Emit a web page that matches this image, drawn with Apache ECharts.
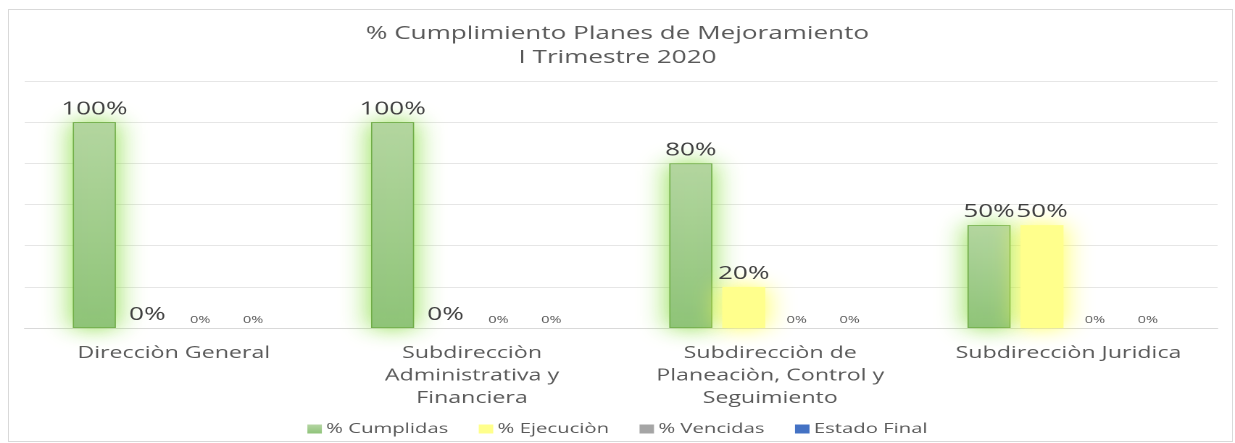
<!DOCTYPE html>
<html>
<head>
<meta charset="utf-8">
<script src="https://cdn.jsdelivr.net/npm/echarts@6/dist/echarts.min.js"></script>
<style>
  html, body { margin: 0; padding: 0; background: #fff; overflow: hidden; }
  #frame { position: absolute; left: 8px; top: 9px; width: 1225px; height: 433px; border: 1px solid #d9d9d9; box-sizing: border-box; }
  /* el grafico original esta estirado en horizontal, se dibuja angosto y se estira */
  #main { position: absolute; left: 0; top: 0; width: 852px; height: 443px; transform: scaleX(1.4495); transform-origin: 0 0; }
</style>
</head>
<body>
<div id="frame"></div>
<div id="main"></div>
<script>
// categorias (areas)
const categorias = [
  'Direcciòn General',
  'Subdirecciòn\nAdministrativa y\nFinanciera',
  'Subdirecciòn de\nPlaneaciòn, Control y\nSeguimiento',
  'Subdirecciòn Juridica',
];
const cumplidas = [1, 1, 0.8, 0.5]; // % Cumplidas
const ejecucion = [0, 0, 0.2, 0.5]; // % Ejecuciòn
const vencidas = [0, 0, 0, 0]; // % Vencidas
const estadoFinal = [0, 0, 0, 0]; // Estado Final

const fuente = 'Open Sans';
const pct = (p) => Math.round(p.value * 100) + '%';

const myChart = echarts.init(document.getElementById('main'), null, { devicePixelRatio: 2 });
myChart.setOption({
  animation: false,
  textStyle: { fontFamily: fuente },
  title: {
    text: '% Cumplimiento Planes de Mejoramiento\nI Trimestre 2020',
    left: 'center',
    top: 17,
    textStyle: {
      color: '#595959',
      fontWeight: 'normal',
      fontSize: 18,
      lineHeight: 24,
      fontFamily: fuente,
    },
  },
  legend: {
    data: ['% Cumplidas', '% Ejecuciòn', '% Vencidas', 'Estado Final'],
    bottom: 2,
    left: 'center',
    icon: 'rect',
    itemWidth: 10,
    itemHeight: 9,
    itemGap: 21,
    itemStyle: { borderWidth: 0, shadowBlur: 0 },
    textStyle: { color: '#595959', fontSize: 14, fontFamily: fuente, padding: [0, 0, 0, -2] },
  },
  grid: {
    left: 17,
    right: 12,
    top: 81,
    bottom: 115,
  },
  xAxis: {
    type: 'category',
    data: categorias,
    axisTick: { show: false },
    axisLine: { lineStyle: { color: '#d9d9d9', width: 1 } },
    axisLabel: {
      color: '#595959',
      fontSize: 16,
      lineHeight: 22.5,
      margin: 14,
      fontFamily: fuente,
    },
  },
  yAxis: {
    type: 'value',
    min: 0,
    max: 1.2,
    interval: 0.2,
    axisLabel: { show: false },
    axisLine: { show: false },
    axisTick: { show: false },
    splitLine: { lineStyle: { color: '#e6e6e6', width: 1 } },
  },
  series: [
    {
      name: '% Cumplidas',
      type: 'bar',
      data: cumplidas,
      barWidth: 29.7,
      barGap: '23%',
      itemStyle: {
        color: new echarts.graphic.LinearGradient(0, 0, 0, 1, [
          { offset: 0, color: '#b5d6a3' },
          { offset: 1, color: '#8fc37a' },
        ]),
        borderColor: '#70ad47',
        borderWidth: 0.8,
        shadowColor: 'rgba(140, 222, 70, 1)',
        shadowBlur: 20,
      },
      label: {
        show: true,
        position: 'top',
        formatter: pct,
        color: '#404040',
        fontSize: 18,
        distance: 4,
        fontFamily: fuente,
      },
    },
    {
      name: '% Ejecuciòn',
      type: 'bar',
      data: ejecucion,
      barWidth: 29.7,
      barGap: '23%',
      itemStyle: {
        color: '#ffff8c',
        shadowColor: 'rgba(255, 255, 80, 1)',
        shadowBlur: 20,
      },
      label: {
        show: true,
        position: 'top',
        formatter: pct,
        color: '#404040',
        fontSize: 18,
        distance: 4,
        fontFamily: fuente,
      },
    },
    {
      name: '% Vencidas',
      type: 'bar',
      data: vencidas,
      barWidth: 29.7,
      barGap: '23%',
      itemStyle: { color: '#a5a5a5' },
      label: {
        show: true,
        position: 'top',
        formatter: pct,
        color: '#595959',
        fontSize: 10,
        distance: 3,
        fontFamily: fuente,
      },
    },
    {
      name: 'Estado Final',
      type: 'bar',
      data: estadoFinal,
      barWidth: 29.7,
      barGap: '23%',
      itemStyle: { color: '#4472c4' },
      label: {
        show: true,
        position: 'top',
        formatter: pct,
        color: '#595959',
        fontSize: 10,
        distance: 3,
        fontFamily: fuente,
      },
    },
  ],
});
</script>
</body>
</html>
